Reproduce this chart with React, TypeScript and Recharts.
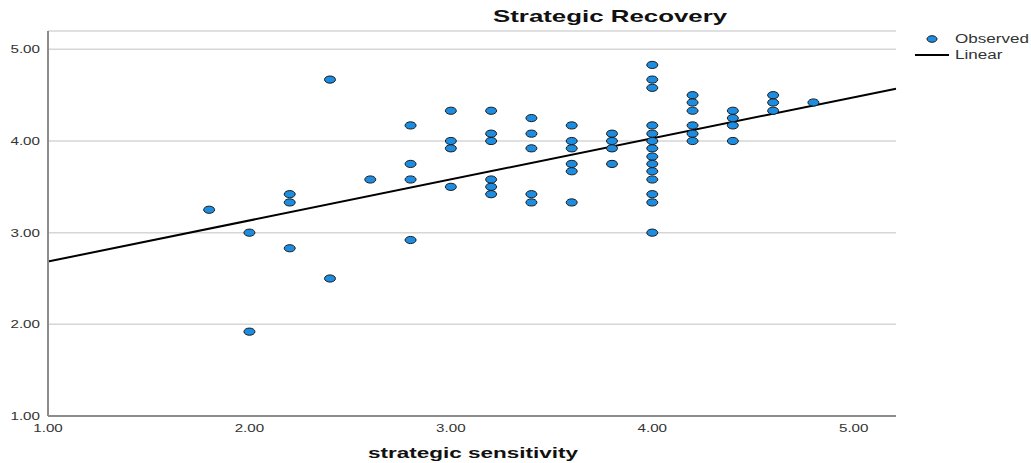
import React from 'react';
import {
  ScatterChart,
  Scatter,
  XAxis,
  YAxis,
  CartesianGrid,
  ReferenceLine,
} from 'recharts';

// strategic sensitivity levels and the recovery scores observed at each level
const sensitivityLevels = [1.8, 2.0, 2.2, 2.4, 2.6, 2.8, 3.0, 3.2, 3.4, 3.6, 3.8, 4.0, 4.2, 4.4, 4.6, 4.8];
const recoveryByLevel = [
  [3.25],
  [3.0, 1.92],
  [3.42, 3.33, 2.83],
  [4.67, 2.5],
  [3.58],
  [4.17, 3.75, 3.58, 2.92],
  [4.33, 4.0, 3.92, 3.5],
  [4.33, 4.08, 4.0, 3.58, 3.5, 3.42],
  [4.25, 4.08, 3.92, 3.42, 3.33],
  [4.17, 4.0, 3.92, 3.75, 3.67, 3.33],
  [4.08, 4.0, 3.92, 3.75],
  [4.83, 4.67, 4.58, 4.17, 4.08, 4.0, 3.92, 3.83, 3.75, 3.67, 3.58, 3.42, 3.33, 3.0],
  [4.5, 4.42, 4.33, 4.17, 4.08, 4.0],
  [4.33, 4.25, 4.17, 4.0],
  [4.5, 4.42, 4.33],
  [4.42],
];
const xTicks = [1, 2, 3, 4, 5];
const yTicks = [1, 2, 3, 4, 5];
const xDomain = [1, 5.21];
const yDomain = [1, 5.2];
const fitIntercept = 2.237;
const fitSlope = 0.448;

const observed = sensitivityLevels.flatMap((x, i) => recoveryByLevel[i].map((y) => ({ x, y })));
const fitLine = xDomain.map((x) => ({ x, y: fitIntercept + fitSlope * x }));

const FONT = '"Liberation Sans", Arial, sans-serif';
const STRETCH = 1.38;
const DOT_FILL = '#1d8de2';

const Dot = (props: any) => {
  const { cx, cy } = props;
  if (cx == null || cy == null) return null;
  return <ellipse cx={cx} cy={cy} rx={5.5} ry={3.6} fill={DOT_FILL} stroke="#1a1a1a" strokeWidth={1} />;
};

const Tick = (props: any) => {
  const { x, y, payload, anchor, dy } = props;
  return (
    <g transform={`translate(${x},${y}) scale(${STRETCH},1)`}>
      <text x={0} y={0} dy={dy} textAnchor={anchor} fill="#333" fontSize={11} fontFamily={FONT}>
        {Number(payload.value).toFixed(2)}
      </text>
    </g>
  );
};

const stretched = (scale: number): React.CSSProperties => ({
  display: 'inline-block',
  whiteSpace: 'nowrap',
  transform: `scaleX(${scale})`,
  transformOrigin: 'left top',
});

const LegendBox = () => (
  <div style={{ position: 'absolute', left: 912, top: 31, fontFamily: FONT, fontSize: 12, color: '#333', lineHeight: '16px' }}>
    <div style={{ display: 'flex', alignItems: 'center', height: 16 }}>
      <svg width={43} height={16}>
        <ellipse cx={20} cy={8} rx={5} ry={3.3} fill={DOT_FILL} stroke="#1a1a1a" strokeWidth={1} />
      </svg>
      <span style={stretched(1.42)}>Observed</span>
    </div>
    <div style={{ display: 'flex', alignItems: 'center', height: 16 }}>
      <svg width={43} height={16}>
        <line x1={3} y1={8} x2={37} y2={8} stroke="#000" strokeWidth={2} />
      </svg>
      <span style={stretched(1.42)}>Linear</span>
    </div>
  </div>
);

export default function App() {
  return (
    <div style={{ position: 'absolute', left: 0, top: 0, width: 1031, height: 463, background: '#fff', overflow: 'hidden' }}>
      <div style={{ position: 'absolute', left: 493, top: 7, fontFamily: FONT, fontWeight: 'bold', fontSize: 17, color: '#111' }}>
        <span style={stretched(1.52)}>Strategic Recovery</span>
      </div>
      <ScatterChart width={1031} height={463} margin={{ top: 31, right: 135, left: 8, bottom: 0 }}>
        <CartesianGrid vertical={false} stroke="#d6d6d6" strokeWidth={1.5} />
        <XAxis
          type="number"
          dataKey="x"
          domain={xDomain}
          ticks={xTicks}
          allowDataOverflow
          height={47}
          axisLine={{ stroke: '#8c8c8c', strokeWidth: 2 }}
          tickLine={false}
          tickSize={6}
          tick={<Tick anchor="middle" dy="0.71em" />}
        />
        <YAxis
          type="number"
          dataKey="y"
          domain={yDomain}
          ticks={yTicks}
          allowDataOverflow
          width={40}
          axisLine={{ stroke: '#8c8c8c', strokeWidth: 2 }}
          tickLine={false}
          tickSize={6}
          tick={<Tick anchor="end" dy="0.35em" />}
        />
        <ReferenceLine segment={fitLine} stroke="#000" strokeWidth={2} ifOverflow="visible" />
        <Scatter data={observed} shape={<Dot />} isAnimationActive={false} />
      </ScatterChart>
      <LegendBox />
      <div style={{ position: 'absolute', left: 368, top: 444, fontFamily: FONT, fontWeight: 'bold', fontSize: 15, lineHeight: '17px', color: '#111' }}>
        <span style={stretched(1.5)}>strategic sensitivity</span>
      </div>
    </div>
  );
}
